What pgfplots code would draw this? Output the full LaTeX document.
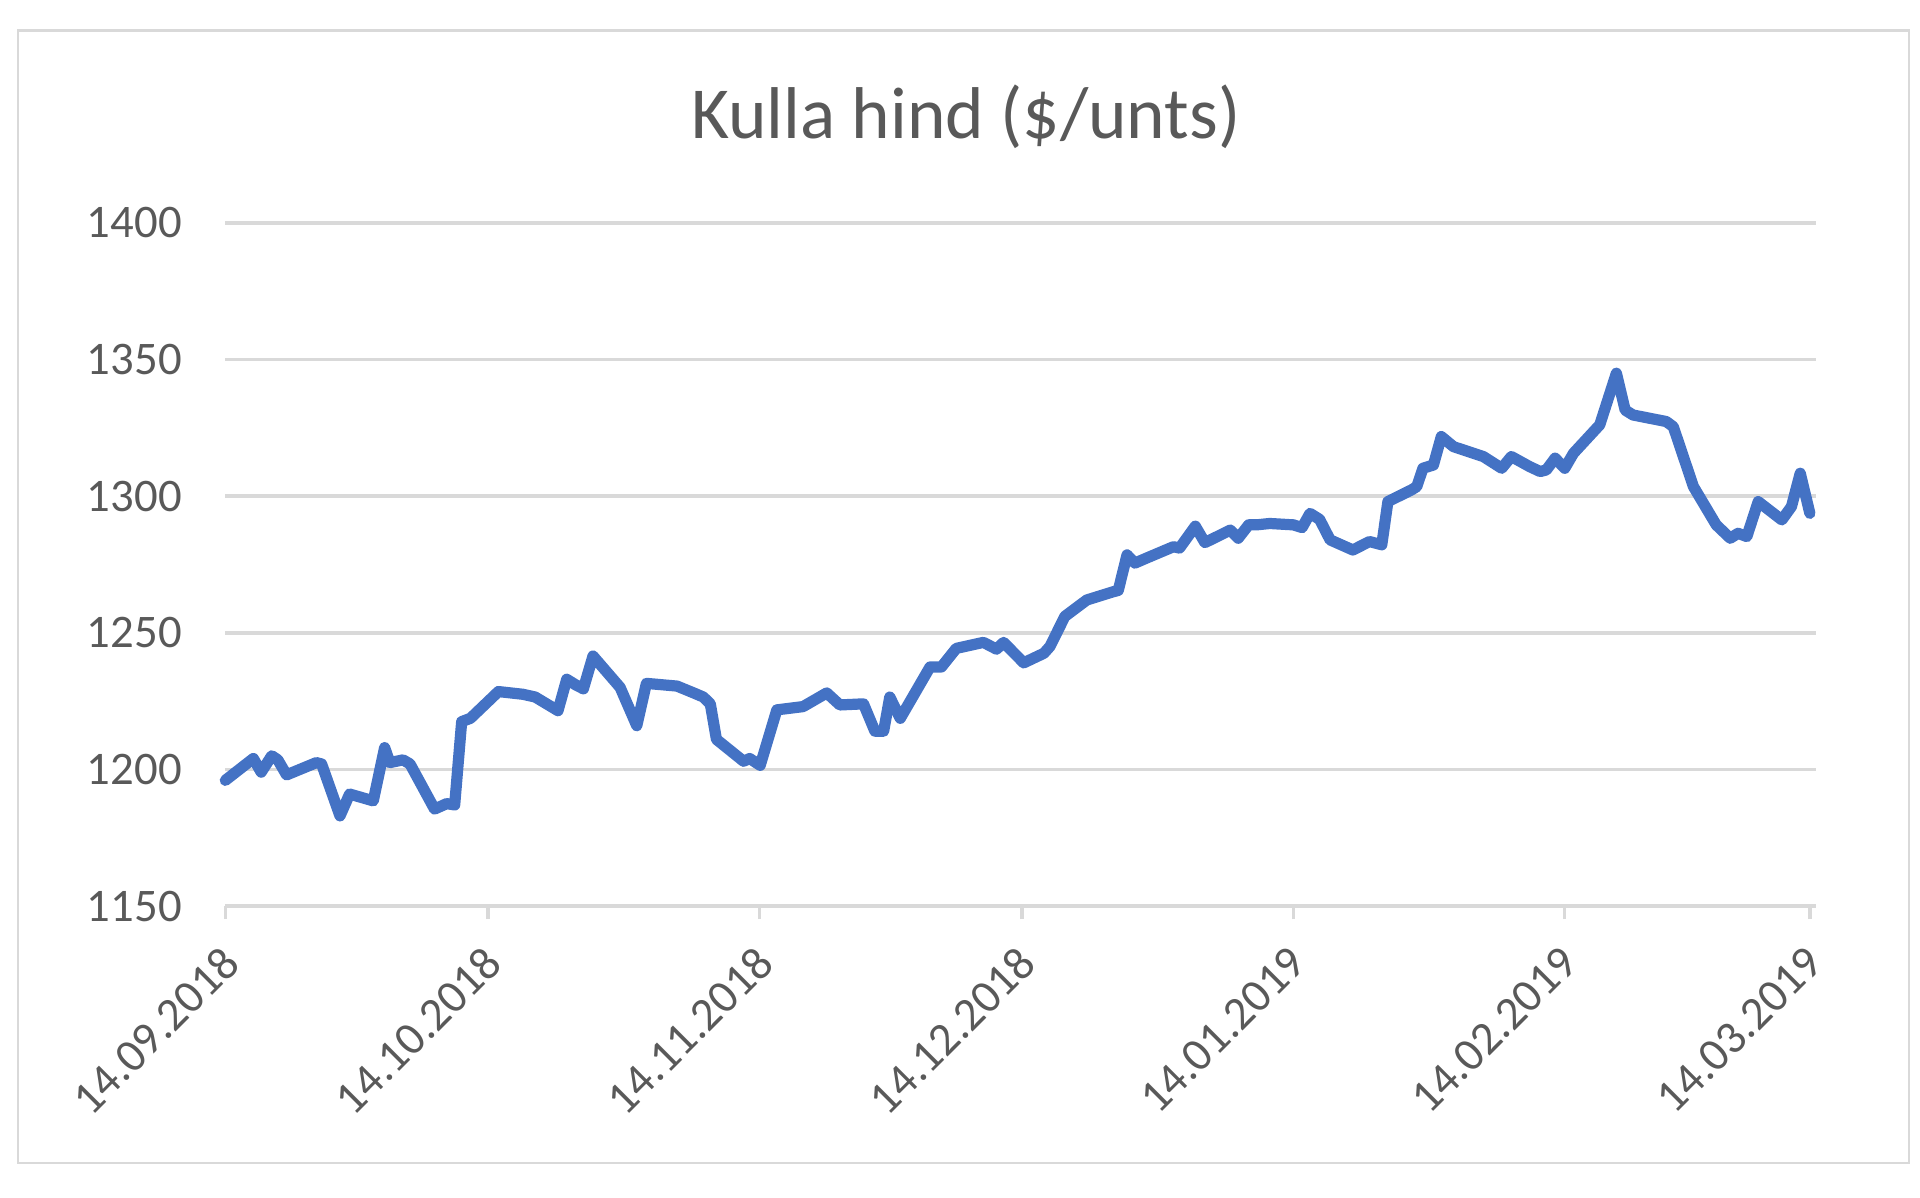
\documentclass[border=0pt]{standalone}
\usepackage{fontspec}
\setmainfont{Carlito}
\usepackage{pgfplots}
\usepackage{pgfplotstable}
\pgfplotsset{compat=1.18}
\definecolor{txt}{HTML}{595959}
\definecolor{gridc}{HTML}{D9D9D9}
\definecolor{gold}{HTML}{4472C4}

\pgfplotstableread{
day value
0 1196
3.2 1204
4.1 1199
5.3 1205
6.0 1203.5
7.0 1198
10.4 1202.5
11.0 1202
13.1 1183
14.2 1191
16.9 1188.5
18.2 1208
18.8 1202.5
20.3 1203.5
21.1 1202
23.9 1185.5
25.3 1187.5
26.2 1187
27.0 1217.5
28.0 1218.7
31.2 1228.5
34.0 1227.5
35.4 1226.5
38.0 1221.5
39.0 1233
40.0 1231
40.9 1229.5
42.0 1241.5
45.1 1230
47.0 1216
48.1 1231.5
51.6 1230.5
53.5 1228
54.6 1226.5
55.4 1224
56.1 1211
59.2 1203
59.9 1204
61.1 1201.5
63.0 1221.8
66.0 1223
68.7 1228
70.2 1223.6
72.9 1224
74.2 1214
75.2 1214
75.9 1226.5
77.1 1218.7
80.5 1237.5
81.8 1237.5
83.5 1244.3
86.6 1246.5
88.1 1244
88.9 1246.5
91.2 1239
93.5 1242.5
94.2 1245
95.9 1256
98.4 1262
101.4 1265
102.0 1265.5
103.0 1278.5
103.9 1275.5
105.2 1277.3
108.3 1281.5
109.0 1281
110.8 1289
111.9 1283
114.8 1287.6
115.7 1284.6
116.9 1289.5
117.8 1289.5
119.3 1290
122.0 1289.5
123.0 1288.5
123.9 1293.7
125.0 1291.5
126.2 1284
128.8 1280.3
130.7 1283.4
132.1 1282.2
132.8 1298
135.5 1302.3
136.1 1303.5
136.8 1310.2
138.0 1311.4
138.9 1321.8
140.3 1318.1
143.7 1314.5
145.8 1310.2
146.9 1314.5
149.0 1310.8
150.2 1309
150.9 1309.6
151.9 1313.9
153.0 1310.2
154.0 1315.7
157.0 1326.1
158.9 1345
159.9 1331.5
160.8 1329.7
164.6 1327.3
165.4 1325.4
167.7 1303.5
170.3 1289.5
171.9 1284.6
172.8 1286.4
173.8 1285.2
175.1 1298
177.8 1291.3
178.9 1296.2
179.9 1308.4
181.0 1293.7
}\golddata

\begin{document}
\begin{tikzpicture}
\useasboundingbox (-48.23pt,-62.29pt) rectangle (362.77pt,193.96pt);
\draw[gridc, line width=0.6pt] (-44.37pt,-55.0pt) rectangle (360.4pt,187.5pt);
\node[anchor=base, text=txt, font=\fontsize{15.7}{18}\selectfont] at (158.5pt,164.4pt) {Kulla hind (\$/unts)};
\begin{axis}[
  at={(0pt,0pt)}, anchor=south west,
  scale only axis, width=340.5pt, height=146.25pt,
  xmin=0, xmax=181.7, ymin=1150, ymax=1400,
  axis x line*=bottom, axis y line*=left,
  y axis line style={draw=none},
  x axis line style={gridc, line width=0.75pt},
  ytick={1150,1200,...,1400},
  ymajorgrids, major grid style={gridc, line width=0.75pt},
  ytick style={draw=none},
  xtick style={gridc, line width=0.75pt},
  tick align=outside, major tick length=2.8pt,
  xtick={0,30,61,91,122,153,181},
  xticklabels={14.09.2018,14.10.2018,14.11.2018,14.12.2018,14.01.2019,14.02.2019,14.03.2019},
  ticklabel style={font=\fontsize{10}{12}\selectfont, text=txt},
  xticklabel style={xshift=-1.3pt, yshift=-5pt, rotate=45, anchor=north east, inner sep=0pt},
  yticklabel style={xshift=-3pt},
  /pgf/number format/assume math mode=true,
  /pgf/number format/1000 sep={},
  clip=false,
]
\addplot[gold, line width=2.4pt, line join=round, line cap=round, mark=none] table[x=day, y=value] {\golddata};
\end{axis}
\end{tikzpicture}
\end{document}
